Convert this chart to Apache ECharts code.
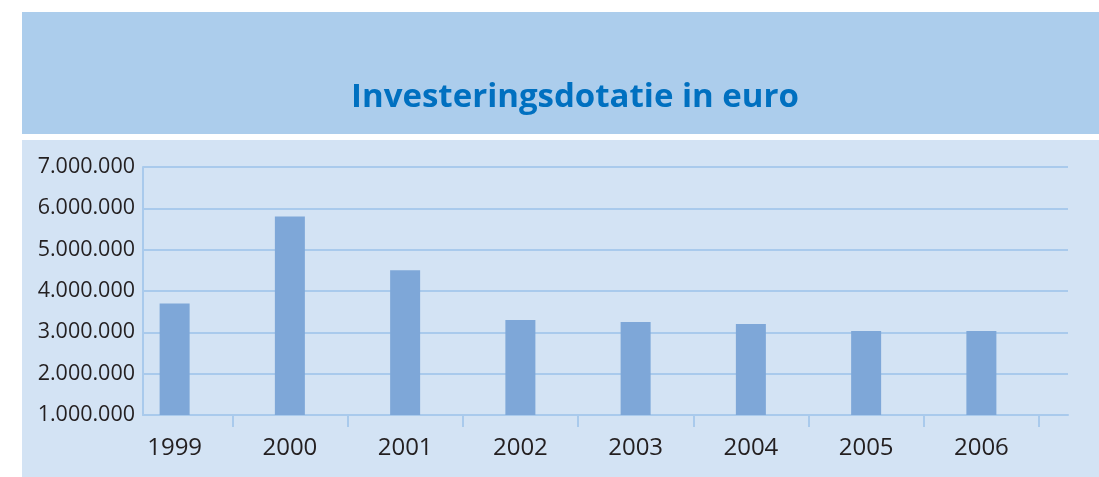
<!DOCTYPE html>
<html>
<head>
<meta charset="utf-8">
<script src="https://cdn.jsdelivr.net/npm/echarts@6/dist/echarts.min.js"></script>
<style>
  html, body { margin: 0; padding: 0; background: #fff; }
  #main { width: 1099px; height: 477px; }
</style>
</head>
<body>
<div id="main"></div>
<script>
  // gegevens
  var years = ['1999', '2000', '2001', '2002', '2003', '2004', '2005', '2006'];
  var dotatie = [3700000, 5800000, 4500000, 3300000, 3250000, 3200000, 3030000, 3030000];
  var yMin = 1000000, yMax = 7000000, yStep = 1000000;

  var lineBlue = '#a9caec';

  function dots(v) {
    return String(v).replace(/\B(?=(\d{3})+(?!\d))/g, '.');
  }

  var myChart = echarts.init(document.getElementById('main'));

  var option = {
    backgroundColor: '#ffffff',
    animation: false,
    graphic: [
      // titelband en paneel
      { type: 'rect', left: 22, top: 12, shape: { width: 1077, height: 122 }, style: { fill: '#accdec' }, z: -10 },
      { type: 'rect', left: 22, top: 140, shape: { width: 1077, height: 337 }, style: { fill: '#d3e3f4' }, z: -10 }
    ],
    title: {
      text: 'Investeringsdotatie in euro',
      left: 570,
      top: 76,
      textAlign: 'center',
      textStyle: { color: '#0070c0', fontSize: 33, fontWeight: 'bold', fontFamily: 'Open Sans' }
    },
    grid: [
      { left: 143, right: 31, top: 167, bottom: 62 },
      { left: 117, right: 60, top: 167, bottom: 62 }
    ],
    xAxis: [
      {
        type: 'category', gridIndex: 0, data: years,
        axisLine: { lineStyle: { color: lineBlue, width: 2 } },
        axisTick: { show: false },
        axisLabel: { show: false }
      },
      {
        type: 'category', gridIndex: 1, data: years,
        boundaryGap: true,
        axisLine: { show: false },
        axisTick: {
          show: true, length: 12,
          interval: function (i) { return i > 0; },
          lineStyle: { color: lineBlue, width: 2 }
        },
        axisLabel: { color: '#231f20', fontSize: 24, fontFamily: 'Open Sans', margin: 21 }
      }
    ],
    yAxis: [
      {
        type: 'value', gridIndex: 0, min: yMin, max: yMax, interval: yStep,
        axisLine: { show: true, lineStyle: { color: lineBlue, width: 2 } },
        axisTick: { show: false },
        splitLine: { lineStyle: { color: lineBlue, width: 2 } },
        axisLabel: { color: '#231f20', fontSize: 21.5, fontFamily: 'Open Sans', margin: 8, formatter: dots }
      },
      {
        type: 'value', gridIndex: 1, min: yMin, max: yMax, interval: yStep, show: false
      }
    ],
    series: [
      {
        name: 'Investeringsdotatie',
        type: 'bar',
        xAxisIndex: 1,
        yAxisIndex: 1,
        barWidth: 30,
        data: dotatie,
        itemStyle: { color: '#7ea7d8' }
      }
    ]
  };

  myChart.setOption(option);
</script>
</body>
</html>
